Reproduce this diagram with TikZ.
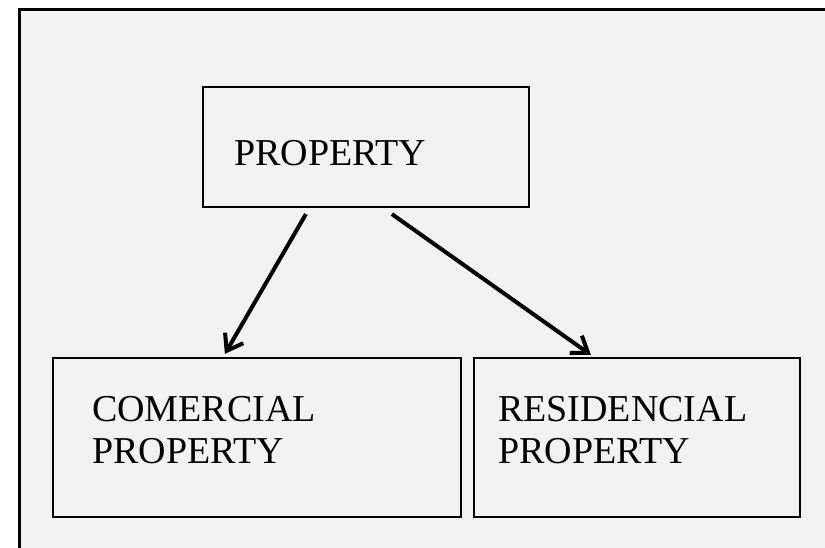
\documentclass[tikz,border=0pt]{standalone}
\usepackage{fontspec}
\setmainfont{Liberation Serif}
\usetikzlibrary{arrows.meta,calc}
\definecolor{bggray}{HTML}{F2F2F2}
\tikzset{
  box/.style={draw=black, line width=2.2pt, rectangle, inner sep=0pt},
  lbl/.style={inner sep=0pt, anchor=base west, align=left, font=\fontsize{38}{42}\selectfont},
  link/.style={line width=4pt, -{Straight Barb[length=15pt, width=21pt, line width=4pt]}}
}
\begin{document}
\begin{tikzpicture}[x=1pt, y=-1pt]
\useasboundingbox (0,0) rectangle (825,547);
\clip (0,0) rectangle (825,547);
\fill[white] (0,0) rectangle (825,547);
\draw[line width=3pt, fill=bggray] (19.5,9.5) rectangle (840,560);
% boxes
\node[box, minimum width=326pt, minimum height=120pt] (prop) at (366,147) {};
\node[box, minimum width=408pt, minimum height=159pt] (com) at (257,437.5) {};
\node[box, minimum width=326pt, minimum height=159pt] (res) at (637,437.5) {};
% labels
\node[lbl] (tprop) at (234,165) {PROPERTY};
\node[lbl] (tcom) at (92,463) {COMERCIAL\\PROPERTY};
\node[lbl] (tres) at (498,463) {RESIDENCIAL\\PROPERTY};
% connectors
\coordinate (s1) at ($(prop.south west)+(104,6)$);
\coordinate (s2) at ($(prop.south west)+(190,6)$);
\coordinate (e1) at ($(com.north west)+(173,-3)$);
\coordinate (e2) at ($(res.north west)+(118,-2)$);
\draw[link] (s1) -- (e1);
\draw[link] (s2) -- (e2);
\end{tikzpicture}
\end{document}
